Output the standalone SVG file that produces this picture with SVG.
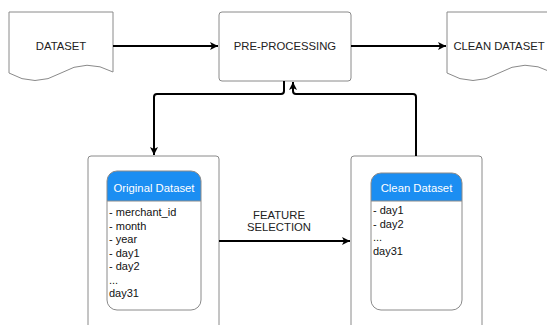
<svg xmlns="http://www.w3.org/2000/svg" width="547" height="325" viewBox="0 0 547 325">
<defs>
<marker id="arr" markerWidth="10" markerHeight="10" refX="8" refY="4" orient="auto" markerUnits="userSpaceOnUse">
<path d="M0,0 L8,4 L0,8 L2,4 Z" fill="#000"/>
</marker>
<style>
.box{fill:#fff;stroke:#8a8a8a;stroke-width:1}
.lbl{font-family:"Liberation Sans",Arial,sans-serif;font-size:11.3px;fill:#222}
.hdr{font-family:"Liberation Sans",Arial,sans-serif;font-size:11.3px;fill:#fff}
.item{font-family:"Liberation Sans",Arial,sans-serif;font-size:11px;fill:#111}
.conn{fill:none;stroke:#000;stroke-width:2;stroke-linejoin:round}
</style>
</defs>
<rect width="547" height="325" fill="#fff"/>

<g id="dataset">
<path class="box" d="M9,12 H113 V72 Q87,58 61,73 Q35,88 9,73 Z"/>
<text class="lbl" x="61" y="50" text-anchor="middle">DATASET</text>
</g>

<g id="preprocessing">
<rect class="box" x="219" y="12" width="132" height="69" rx="3"/>
<text class="lbl" x="285" y="50" text-anchor="middle">PRE-PROCESSING</text>
</g>

<g id="clean-dataset-doc">
<path class="box" d="M447,12 H551 V72 Q525,58 499,73 Q473,88 447,73 Z"/>
<text class="lbl" x="499" y="50" text-anchor="middle">CLEAN DATASET</text>
</g>

<g id="original-dataset">
<rect class="box" x="88" y="156" width="131" height="180" rx="3"/>
<path d="M107,201 V181 A10,10 0 0 1 117,171 H191 A10,10 0 0 1 201,181 V201 Z" fill="#1b8ef2"/>
<rect x="107" y="171" width="94" height="139" rx="10" fill="none" stroke="#8a8a8a"/>
<line x1="107" y1="201" x2="201" y2="201" stroke="#8a8a8a"/>
<text class="hdr" x="154" y="192" text-anchor="middle">Original Dataset</text>
<text class="item" x="109" y="216">- merchant_id</text>
<text class="item" x="109" y="229.5">- month</text>
<text class="item" x="109" y="243">- year</text>
<text class="item" x="109" y="256.5">- day1</text>
<text class="item" x="109" y="270">- day2</text>
<text class="item" x="109" y="283.5">...</text>
<text class="item" x="109" y="297">day31</text>
</g>

<g id="clean-dataset">
<rect class="box" x="351" y="156" width="131" height="180" rx="3"/>
<path d="M371,201 V183 A10,10 0 0 1 381,173 H452 A10,10 0 0 1 462,183 V201 Z" fill="#1b8ef2"/>
<rect x="371" y="173" width="91" height="137" rx="10" fill="none" stroke="#8a8a8a"/>
<line x1="371" y1="201" x2="462" y2="201" stroke="#8a8a8a"/>
<text class="hdr" x="416.5" y="192" text-anchor="middle">Clean Dataset</text>
<text class="item" x="373" y="214">- day1</text>
<text class="item" x="373" y="227.5">- day2</text>
<text class="item" x="373" y="241">...</text>
<text class="item" x="373" y="254.5">day31</text>
</g>

<g id="connectors">
<line class="conn" x1="113" y1="46" x2="218" y2="46" marker-end="url(#arr)"/>
<line class="conn" x1="351" y1="46" x2="446" y2="46" marker-end="url(#arr)"/>
<path class="conn" d="M284,81 V91 Q284,94 281,94 H157 Q154,94 154,97 V155" marker-end="url(#arr)"/>
<path class="conn" d="M416,156 V97 Q416,94 413,94 H296 Q293,94 293,91 V82" marker-end="url(#arr)"/>
<line class="conn" x1="219" y1="241" x2="350" y2="241" marker-end="url(#arr)"/>
<text class="lbl" x="279" y="219" text-anchor="middle">FEATURE</text>
<text class="lbl" x="279" y="231" text-anchor="middle">SELECTION</text>
</g>
</svg>
